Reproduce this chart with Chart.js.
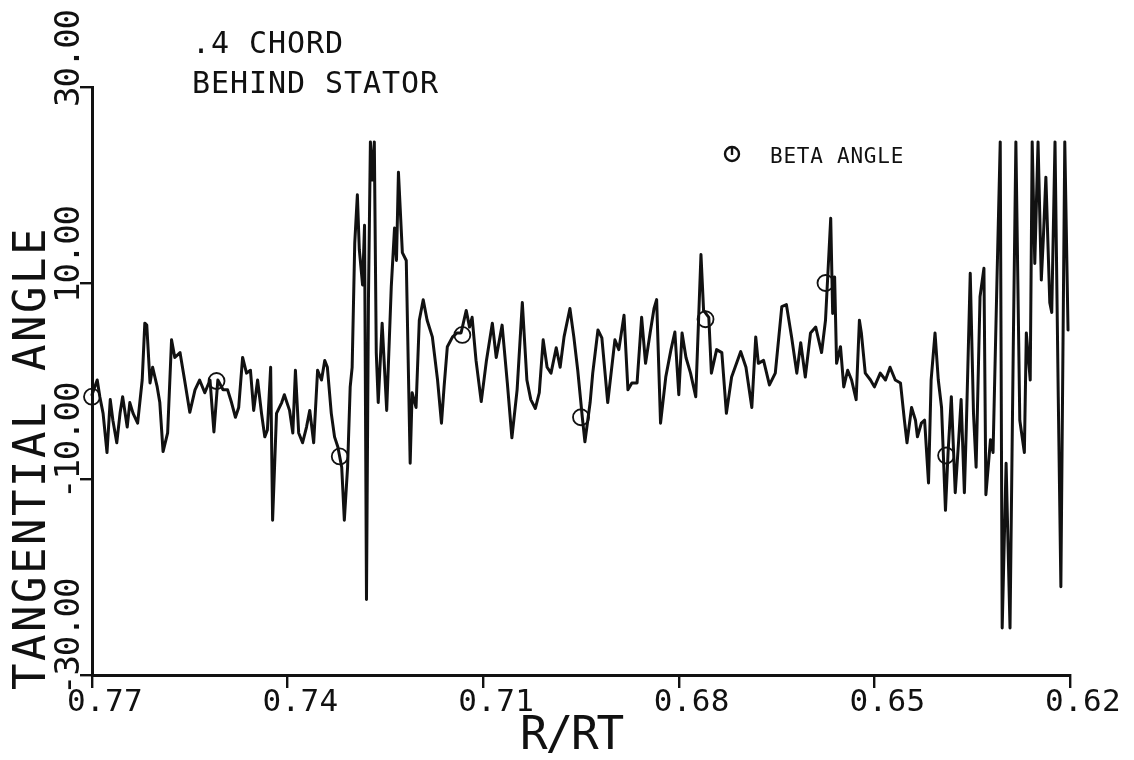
<!DOCTYPE html>
<html>
<head>
<meta charset="utf-8">
<script src="https://cdn.jsdelivr.net/npm/chart.js@4.4.1/dist/chart.umd.min.js"></script>
<style>
  html, body { margin: 0; padding: 0; background: #ffffff; }
  #wrap { width: 1134px; height: 760px; position: relative; }
</style>
</head>
<body>
<div id="wrap"><canvas id="chart" width="1134" height="760"></canvas></div>
<script>
// Radius ratio along the traverse (axis runs from 0.77 down to 0.62)
const rRt = [
  0.7700,0.7692,0.7688,0.7683,0.7677,0.7672,0.7668,0.7662,0.7657,0.7653,
  0.7646,0.7642,0.7637,0.7630,0.7623,0.7619,0.7616,0.7611,0.7607,0.7600,
  0.7596,0.7591,0.7584,0.7578,0.7573,0.7565,0.7558,0.7550,0.7542,0.7535,
  0.7527,0.7519,0.7513,0.7507,0.7499,0.7492,0.7486,0.7480,0.7475,0.7469,
  0.7463,0.7457,0.7452,0.7446,0.7440,0.7435,0.7431,0.7426,0.7423,0.7417,
  0.7409,0.7405,0.7397,0.7392,0.7388,0.7383,0.7377,0.7371,0.7366,0.7360,
  0.7354,0.7348,0.7343,0.7339,0.7333,0.7328,0.7323,0.7317,0.7313,0.7308,
  0.7304,0.7301,0.7297,0.7293,0.7290,0.7285,0.7282,0.7279,0.7276,0.7273,
  0.7270,0.7267,0.7264,0.7261,0.7255,0.7248,0.7241,0.7236,0.7233,0.7230,
  0.7224,0.7218,0.7212,0.7209,0.7203,0.7198,0.7192,0.7186,0.7178,0.7170,
  0.7164,0.7160,0.7155,0.7147,0.7140,0.7134,0.7126,0.7121,0.7117,0.7111,
  0.7103,0.7095,0.7086,0.7080,0.7071,0.7063,0.7056,0.7048,0.7040,0.7033,
  0.7027,0.7020,0.7014,0.7008,0.7002,0.6996,0.6988,0.6982,0.6976,0.6967,
  0.6961,0.6955,0.6948,0.6944,0.6936,0.6932,0.6924,0.6918,0.6909,0.6898,
  0.6892,0.6884,0.6878,0.6872,0.6864,0.6857,0.6851,0.6844,0.6838,0.6834,
  0.6828,0.6820,0.6812,0.6806,0.6800,0.6795,0.6789,0.6782,0.6774,0.6766,
  0.6762,0.6754,0.6750,0.6742,0.6734,0.6727,0.6719,0.6705,0.6697,0.6688,
  0.6682,0.6678,0.6670,0.6661,0.6652,0.6642,0.6635,0.6627,0.6619,0.6613,
  0.6606,0.6598,0.6590,0.6581,0.6575,0.6570,0.6567,0.6564,0.6561,0.6558,
  0.6552,0.6547,0.6541,0.6535,0.6528,0.6523,0.6520,0.6514,0.6506,0.6500,
  0.6491,0.6483,0.6476,0.6468,0.6460,0.6454,0.6450,0.6443,0.6437,0.6434,
  0.6428,0.6423,0.6417,0.6413,0.6407,0.6402,0.6397,0.6391,0.6387,0.6382,
  0.6376,0.6371,0.6367,0.6362,0.6359,0.6353,0.6348,0.6344,0.6338,0.6332,
  0.6329,0.6322,0.6318,0.6312,0.6307,0.6304,0.6298,0.6292,0.6287,0.6283,
  0.6277,0.6270,0.6267,0.6261,0.6258,0.6254,0.6249,0.6244,0.6241,0.6237,
  0.6231,0.6228,0.6223,0.6218,0.6214,0.6208,0.6203
];

// Tangential flow angle (degrees) measured at each radius
const tangentialAngle = [
  -1.4,0.1,-1.6,-3.3,-7.3,-1.9,-4.0,-6.3,-3.3,-1.6,
  -4.7,-2.2,-3.3,-4.3,0.1,5.9,5.7,-0.2,1.4,-0.6,
  -2.2,-7.2,-5.3,4.2,2.4,2.9,0.1,-3.2,-0.9,0.1,
  -1.2,0.1,-5.2,0.1,-0.9,-0.9,-2.2,-3.7,-2.7,2.4,
  0.8,1.1,-3.0,0.1,-3.3,-5.7,-5.0,1.4,-14.2,-3.3,
  -2.2,-1.4,-3.0,-5.3,1.1,-5.3,-6.3,-4.7,-3.0,-6.3,
  1.1,0.1,2.1,1.4,-3.3,-5.7,-6.7,-8.8,-14.2,-8.8,
  -0.6,1.4,14.1,19.0,13.4,9.8,15.9,-22.3,8.3,24.4,
  20.5,24.4,2.9,-2.2,5.9,-3.0,9.6,15.6,12.3,21.3,
  13.1,12.3,-8.4,-1.2,-2.7,6.2,8.3,6.2,4.5,0.1,
  -4.3,-0.6,3.5,4.5,4.9,4.9,7.2,5.5,6.5,2.1,
  -2.1,2.1,5.9,2.4,5.7,-0.2,-5.8,-0.9,8.0,0.1,
  -1.9,-2.8,-1.2,4.2,1.4,0.8,3.4,1.4,4.5,7.4,
  4.5,1.1,-3.7,-6.2,-2.2,0.8,5.2,4.4,-2.2,4.2,
  3.2,6.7,-0.9,-0.2,-0.2,6.5,1.8,4.9,7.4,8.3,
  -4.3,0.4,3.2,5.0,-1.4,4.9,2.4,0.8,-1.6,12.9,
  7.2,6.5,0.8,3.2,2.9,-3.3,0.4,3.0,1.4,-2.7,
  4.5,1.8,2.1,-0.4,0.8,7.6,7.8,4.5,0.8,3.9,
  0.4,4.9,5.5,2.9,6.2,12.7,16.6,6.9,10.6,1.8,
  3.5,-0.6,1.1,0.1,-1.9,6.2,4.9,0.8,0.1,-0.6,
  0.8,0.1,1.4,0.1,-0.2,-4.0,-6.3,-2.7,-4.0,-5.7,
  -4.3,-4.0,-10.4,0.1,4.9,0.1,-2.7,-13.2,-7.3,-1.6,
  -11.4,-6.3,-1.9,-11.4,-4.7,11.0,-3.3,-8.8,8.6,11.5,
  -11.6,-6.0,-7.3,10.3,24.4,-25.2,-8.4,-25.2,3.5,24.4,
  -4.0,-7.3,4.9,0.1,24.4,12.0,24.4,10.3,14.4,20.8,
  8.0,7.0,24.4,-1.6,-21.0,24.4,5.2
];

// Beta angle samples shown with circle symbols
const betaR = [0.7700, 0.7509, 0.7320, 0.7132, 0.6950, 0.6759, 0.6575, 0.6390];
const betaAngle = [-1.6, 0.0, -7.7, 4.7, -3.7, 6.3, 10.0, -7.6];

// Axis ticks
const xTickValues = [0.77, 0.74, 0.71, 0.68, 0.65, 0.62];
const yTickValues = [-30, -10, 10, 30];

const titleLines = ['.4 CHORD', 'BEHIND STATOR'];
const xAxisTitle = 'R/RT';
const yAxisTitle = 'TANGENTIAL ANGLE';
const legendLabel = 'BETA ANGLE';

const FONT = '"DejaVu Sans Mono", "Liberation Mono", monospace';
const INK = '#111111';

// Draws monospaced text with a fixed character pitch, optionally rotated.
function drawPitched(ctx, text, x, y, angle, size, pitch) {
  ctx.save();
  ctx.translate(x, y);
  if (angle) ctx.rotate(angle);
  ctx.font = size + 'px ' + FONT;
  ctx.fillStyle = INK;
  ctx.textAlign = 'left';
  ctx.textBaseline = 'alphabetic';
  const natural = ctx.measureText(text).width / text.length;
  if ('letterSpacing' in ctx) {
    ctx.letterSpacing = (pitch - natural).toFixed(2) + 'px';
    ctx.fillText(text, 0, 0);
  } else {
    ctx.scale(pitch / natural, 1);
    ctx.fillText(text, 0, 0);
  }
  ctx.restore();
}

const annotations = {
  id: 'annotations',
  afterDraw(chart) {
    const ctx = chart.ctx;
    const xs = chart.scales.x;
    const ys = chart.scales.y;

    // y tick labels, reading upward, starting just below each tick
    yTickValues.forEach(v => {
      const py = ys.getPixelForValue(v);
      drawPitched(ctx, v.toFixed(2), 79, py + 20, -Math.PI / 2, 34, 19.4);
    });

    // x tick labels with the decimal point under the tick
    xTickValues.forEach(v => {
      const px = xs.getPixelForValue(v);
      drawPitched(ctx, v.toFixed(2), px - 25, 711, 0, 31, 19);
    });

    // axis titles
    drawPitched(ctx, yAxisTitle, 45, 690, -Math.PI / 2, 44, 29);
    drawPitched(ctx, xAxisTitle, 520, 749, 0, 46, 25.5);

    // heading
    drawPitched(ctx, titleLines[0], 192, 53, 0, 30, 19);
    drawPitched(ctx, titleLines[1], 192, 93, 0, 30, 19);

    // legend entry
    ctx.save();
    ctx.strokeStyle = INK;
    ctx.lineWidth = 2.4;
    ctx.beginPath();
    ctx.arc(732, 154, 7, 0, Math.PI * 2);
    ctx.stroke();
    ctx.beginPath();
    ctx.moveTo(732, 147);
    ctx.lineTo(732, 155);
    ctx.stroke();
    ctx.restore();
    drawPitched(ctx, legendLabel, 770, 163, 0, 21, 13.4);
  }
};

const trace = rRt.map((r, i) => ({ x: r, y: tangentialAngle[i] }));
const beta = betaR.map((r, i) => ({ x: r, y: betaAngle[i] }));

new Chart(document.getElementById('chart'), {
  type: 'scatter',
  data: {
    datasets: [
      {
        label: 'Tangential angle',
        data: trace,
        showLine: true,
        borderColor: INK,
        borderWidth: 3,
        borderJoinStyle: 'round',
        borderCapStyle: 'round',
        pointRadius: 0,
        tension: 0,
        fill: false,
        clip: false
      },
      {
        label: legendLabel,
        data: beta,
        showLine: false,
        pointStyle: 'circle',
        pointRadius: 8,
        pointBorderWidth: 1.8,
        pointBorderColor: INK,
        pointBackgroundColor: 'rgba(0,0,0,0)',
        clip: false
      }
    ]
  },
  options: {
    responsive: false,
    animation: false,
    devicePixelRatio: 1,
    layout: { padding: { left: 92, right: 64, top: 87, bottom: 85 } },
    plugins: {
      legend: { display: false },
      tooltip: { enabled: false },
      title: { display: false }
    },
    scales: {
      x: {
        type: 'linear',
        position: 'bottom',
        min: 0.62,
        max: 0.77,
        reverse: true,
        afterBuildTicks: s => { s.ticks = xTickValues.map(v => ({ value: v })); },
        afterFit: s => { s.height = 0; },
        ticks: { display: false },
        grid: {
          drawOnChartArea: false,
          drawTicks: true,
          tickLength: 13,
          color: INK,
          lineWidth: 2.4
        },
        border: { display: true, color: INK, width: 3 }
      },
      y: {
        type: 'linear',
        position: 'left',
        min: -30,
        max: 30,
        afterBuildTicks: s => { s.ticks = yTickValues.map(v => ({ value: v })); },
        afterFit: s => { s.width = 0; },
        ticks: { display: false },
        grid: {
          drawOnChartArea: false,
          drawTicks: true,
          tickLength: 12,
          color: INK,
          lineWidth: 2.4
        },
        border: { display: true, color: INK, width: 3 }
      }
    }
  },
  plugins: [annotations]
});
</script>
</body>
</html>
